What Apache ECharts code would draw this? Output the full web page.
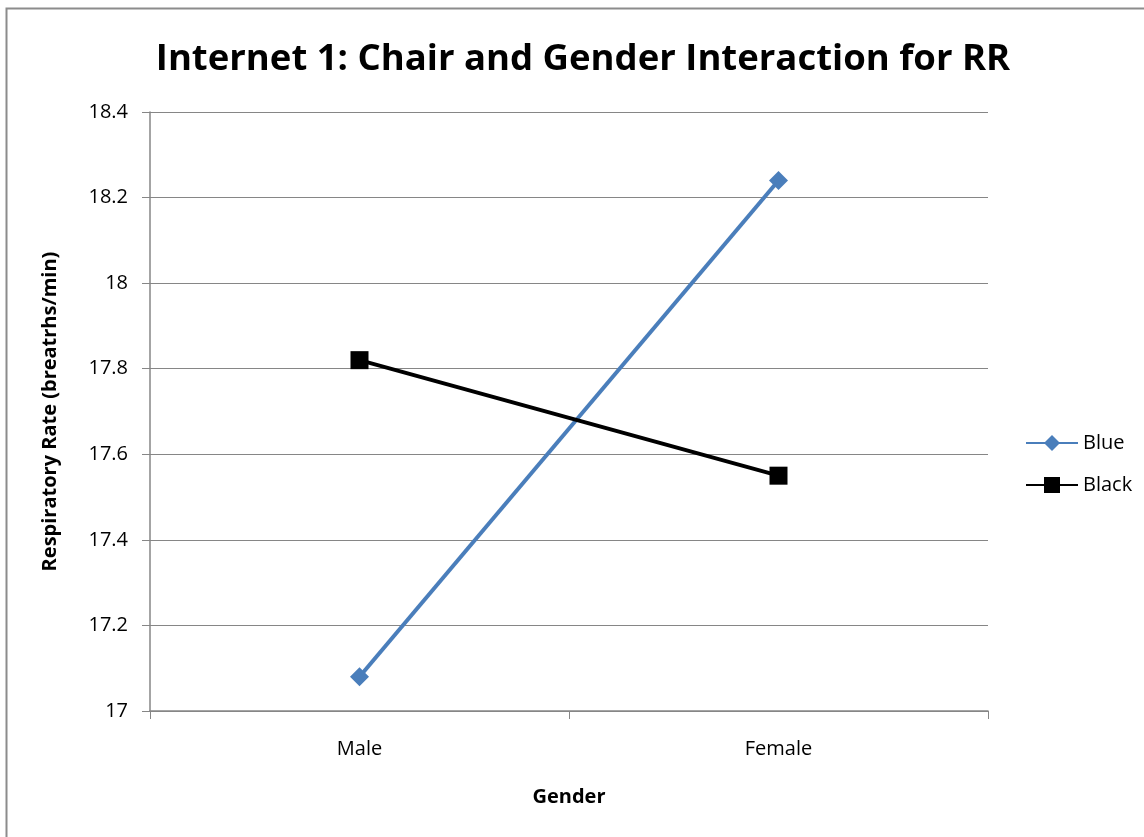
<!DOCTYPE html>
<html>
<head>
<meta charset="utf-8">
<script src="https://cdn.jsdelivr.net/npm/echarts@6/dist/echarts.min.js"></script>
<style>
  html, body { margin: 0; padding: 0; background: #fff; }
  #chart { width: 1144px; height: 837px; }
</style>
</head>
<body>
<div id="chart"></div>
<script>
// Mean respiratory rate by gender for each chair colour
const genders = ['Male', 'Female'];
const blueRR = [17.08, 18.24];
const blackRR = [17.82, 17.55];
const yTicks = { min: 17, max: 18.4, step: 0.2 };

const FONT = '"Open Sans", "Noto Sans", sans-serif';
const axisGray = '#868686';

const chart = echarts.init(document.getElementById('chart'), null, { renderer: 'canvas' });

chart.setOption({
  backgroundColor: '#ffffff',
  animation: false,
  title: {
    text: 'Internet 1: Chair and Gender Interaction for RR',
    left: 578,
    top: 36,
    textAlign: 'center',
    textStyle: { fontFamily: FONT, fontSize: 36.5, fontWeight: 'bold', color: '#000' }
  },
  graphic: [{
    type: 'rect',
    shape: { x: 6.5, y: 8.5, width: 1200, height: 900 },
    style: { fill: 'none', stroke: '#8c8c8c', lineWidth: 2 },
    silent: true
  }],
  legend: {
    orient: 'vertical',
    left: 1020,
    top: 428,
    itemWidth: 52,
    itemHeight: 20,
    itemGap: 22,
    textStyle: { fontFamily: FONT, fontSize: 20, color: '#000' },
    data: ['Blue', 'Black']
  },
  grid: { left: 150, right: 156, top: 112, bottom: 126, containLabel: false },
  xAxis: {
    type: 'category',
    data: genders,
    boundaryGap: true,
    name: 'Gender',
    nameLocation: 'middle',
    nameGap: 76,
    nameTextStyle: { fontFamily: FONT, fontSize: 20, fontWeight: 'bold', color: '#000' },
    axisLine: { lineStyle: { color: axisGray, width: 1.5 } },
    axisTick: { show: true, length: 8, inside: false, alignWithLabel: false, lineStyle: { color: axisGray } },
    axisLabel: { margin: 28, fontFamily: FONT, fontSize: 20, color: '#000' },
    splitLine: { show: false }
  },
  yAxis: {
    type: 'value',
    min: yTicks.min,
    max: yTicks.max,
    interval: yTicks.step,
    name: 'Respiratory Rate (breatrhs/min)',
    nameLocation: 'middle',
    nameGap: 90,
    nameRotate: 90,
    nameTextStyle: { fontFamily: FONT, fontSize: 20, fontWeight: 'bold', color: '#000' },
    axisLine: { show: true, lineStyle: { color: axisGray, width: 1.5 } },
    axisTick: { show: true, length: 8, lineStyle: { color: axisGray } },
    axisLabel: {
      margin: 22, fontFamily: FONT, fontSize: 20, color: '#000',
      formatter: v => String(Math.round(v * 10) / 10)
    },
    splitLine: { show: true, lineStyle: { color: axisGray, width: 1 } }
  },
  series: [
    {
      name: 'Blue',
      type: 'line',
      data: blueRR,
      symbol: 'diamond',
      symbolSize: 19,
      lineStyle: { color: '#4a7ebb', width: 4 },
      itemStyle: { color: '#4a7ebb' }
    },
    {
      name: 'Black',
      type: 'line',
      data: blackRR,
      symbol: 'rect',
      symbolSize: 18,
      lineStyle: { color: '#000', width: 4 },
      itemStyle: { color: '#000' }
    }
  ]
});
</script>
</body>
</html>
